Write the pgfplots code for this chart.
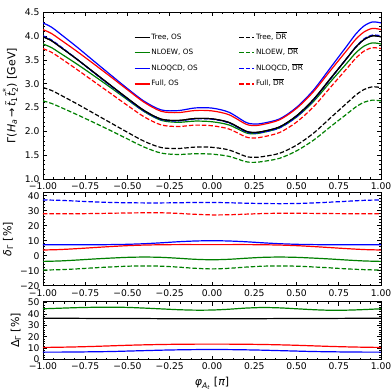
\documentclass[border=0pt]{standalone}
\usepackage{amsmath}
\usepackage{fontspec}
\setmainfont{DejaVu Sans}
\usepackage{pgfplots}
\usepackage{pgfplotstable}
\pgfplotsset{compat=1.18}

\definecolor{mplg}{rgb}{0,0.5,0}
\definecolor{mplb}{rgb}{0,0,1}
\definecolor{mplr}{rgb}{1,0,0}

\pgfplotstableread{
x tos tdr ewos ewdr qcdos qcddr fos fdr
-1.00 3.986 2.920 3.835 2.640 4.277 4.006 4.137 3.738
-0.95 3.904 2.860 3.760 2.588 4.189 3.920 4.056 3.661
-0.90 3.778 2.770 3.646 2.512 4.054 3.792 3.933 3.546
-0.80 3.517 2.580 3.415 2.353 3.774 3.519 3.682 3.302
-0.70 3.242 2.380 3.171 2.187 3.479 3.234 3.417 3.049
-0.60 2.967 2.180 2.920 2.017 3.187 2.954 3.148 2.797
-0.50 2.693 1.980 2.663 1.841 2.898 2.679 2.873 2.544
-0.40 2.434 1.790 2.412 1.668 2.629 2.420 2.607 2.302
-0.30 2.256 1.660 2.231 1.544 2.450 2.244 2.421 2.135
-0.20 2.229 1.640 2.191 1.515 2.436 2.219 2.394 2.102
-0.10 2.270 1.670 2.216 1.531 2.492 2.263 2.438 2.131
0.00 2.263 1.665 2.202 1.522 2.489 2.256 2.430 2.118
0.10 2.188 1.610 2.135 1.476 2.402 2.178 2.350 2.050
0.20 2.005 1.475 1.971 1.363 2.191 1.991 2.153 1.884
0.25 1.977 1.455 1.949 1.349 2.154 1.963 2.122 1.861
0.30 1.998 1.470 1.976 1.367 2.170 1.982 2.144 1.883
0.40 2.094 1.540 2.075 1.435 2.262 2.074 2.243 1.976
0.50 2.326 1.710 2.300 1.590 2.503 2.305 2.482 2.194
0.60 2.668 1.960 2.625 1.813 2.865 2.650 2.831 2.513
0.70 3.105 2.280 3.037 2.095 3.332 3.094 3.273 2.921
0.80 3.544 2.600 3.441 2.371 3.803 3.544 3.711 3.328
0.85 3.765 2.760 3.645 2.510 4.040 3.770 3.931 3.533
0.90 3.928 2.880 3.791 2.612 4.215 3.943 4.089 3.686
0.95 4.006 2.935 3.858 2.656 4.298 4.022 4.162 3.757
1.00 3.986 2.920 3.835 2.640 4.277 4.006 4.137 3.738
}\toptable

\pgfplotstableread{
x qcdos fos ewos qcddr fdr ewdr
-1.0 7.3 3.8 -3.8 37.2 28.0 -9.6
-0.9 7.3 4.1 -3.5 36.9 28.0 -9.3
-0.8 7.3 4.7 -2.9 36.4 28.0 -8.8
-0.7 7.3 5.4 -2.2 35.9 28.1 -8.1
-0.6 7.4 6.1 -1.6 35.5 28.3 -7.5
-0.5 7.6 6.7 -1.1 35.3 28.5 -7.0
-0.4 8.0 7.1 -0.9 35.2 28.6 -6.8
-0.3 8.6 7.3 -1.1 35.2 28.6 -7.0
-0.2 9.3 7.4 -1.7 35.3 28.2 -7.6
-0.1 9.8 7.4 -2.4 35.5 27.6 -8.4
0.0 10.0 7.4 -2.7 35.5 27.2 -8.8
0.1 9.8 7.4 -2.4 35.3 27.3 -8.4
0.2 9.3 7.4 -1.7 35.0 27.7 -7.6
0.3 8.6 7.3 -1.1 34.8 28.1 -7.0
0.4 8.0 7.1 -0.9 34.7 28.3 -6.8
0.5 7.6 6.7 -1.1 34.8 28.3 -7.0
0.6 7.4 6.1 -1.6 35.2 28.2 -7.5
0.7 7.3 5.4 -2.2 35.7 28.1 -8.1
0.8 7.3 4.7 -2.9 36.3 28.0 -8.8
0.9 7.3 4.1 -3.5 36.9 28.0 -9.3
1.0 7.3 3.8 -3.8 37.2 28.0 -9.6
}\midtable

\pgfplotstableread{
x tree ew full qcd
-1.0 36.3 44.6 10.6 6.5
-0.9 36.3 45.1 10.8 6.5
-0.8 36.2 45.6 11.1 6.6
-0.7 36.1 45.9 11.5 6.8
-0.6 36.1 46.0 12.0 7.0
-0.5 36.0 45.8 12.5 7.4
-0.4 36.0 45.2 12.9 7.8
-0.3 35.9 44.5 13.2 8.2
-0.2 35.9 43.8 13.4 8.5
-0.1 35.9 43.4 13.5 8.7
0.0 35.9 43.5 13.5 8.8
0.1 35.9 44.2 13.5 8.7
0.2 35.9 45.2 13.4 8.5
0.3 35.9 45.7 13.2 8.2
0.4 36.0 45.4 12.9 7.8
0.5 36.0 44.6 12.5 7.4
0.6 36.1 43.8 12.0 7.0
0.7 36.1 43.3 11.5 6.8
0.8 36.2 43.4 11.1 6.6
0.9 36.3 43.9 10.8 6.5
1.0 36.3 44.6 10.6 6.5
}\bottable

\pgfplotsset{
  myax/.style={
    scale only axis, width=338pt, anchor=south west,
    xmin=-1, xmax=1,
    xtick={-1,-0.75,-0.5,-0.25,0,0.25,0.5,0.75,1},
    xticklabels={−1.00,−0.75,−0.50,−0.25,0.00,0.25,0.50,0.75,1.00},
    minor x tick num=3, minor y tick num=4,
    tick align=inside, xtick pos=both, ytick pos=both,
    major tick length=4pt, minor tick length=2pt,
    every tick/.style={black, line width=0.6pt},
    axis line style={line width=0.8pt},
    ticklabel style={font=\fontsize{9.2}{11}\selectfont},
    label style={font=\fontsize{11}{13}\selectfont},
    every axis plot/.append style={line width=1.2pt, smooth, no markers},
    dsh/.style={dash pattern=on 4.5pt off 2pt},
  }
}

\begin{document}
\begin{tikzpicture}
\path[use as bounding box] (0,0) rectangle (392pt,392pt);

% top panel
\begin{axis}[myax, at={(43pt,213pt)}, height=166.7pt,
  ymin=1, ymax=4.5,
  ytick={1,1.5,2,2.5,3,3.5,4,4.5},
  yticklabels={1.0,1.5,2.0,2.5,3.0,3.5,4.0,4.5},
  ylabel={$\text{Γ(}\text{\itshape H}_{\text{\itshape a}}\,\text{→}\,\text{\itshape t̃}_{\text{1}}\text{\itshape t̃}_{\text{2}}^{\text{*}}\text{)\ [GeV]}$},
  legend columns=4, transpose legend,
  legend image code/.code={\draw[#1] (0pt,0pt) -- (15pt,0pt);},
  legend cell align=left,
  legend style={draw=none, fill=none, inner sep=0pt,
    at={(0.269,0.879)}, anchor=north west,
    font=\fontsize{7.3}{8}\selectfont,
    row sep=6.6pt,
    nodes={inner sep=1pt, text height=5.5pt, text depth=1.5pt},
    /tikz/every even column/.append style={column sep=40pt}},
]
\addplot[black] table[x=x,y=tos] {\toptable};
\addlegendentry{Tree, OS}
\addplot[mplg] table[x=x,y=ewos] {\toptable};
\addlegendentry{NLOEW, OS}
\addplot[mplb] table[x=x,y=qcdos] {\toptable};
\addlegendentry{NLOQCD, OS}
\addplot[mplr] table[x=x,y=fos] {\toptable};
\addlegendentry{Full, OS}
\addplot[black,dsh] table[x=x,y=tdr] {\toptable};
\addlegendentry{Tree, $\overline{\text{DR}}$}
\addplot[mplg,dsh] table[x=x,y=ewdr] {\toptable};
\addlegendentry{NLOEW, $\overline{\text{DR}}$}
\addplot[mplb,dsh] table[x=x,y=qcddr] {\toptable};
\addlegendentry{NLOQCD, $\overline{\text{DR}}$}
\addplot[mplr,dsh] table[x=x,y=fdr] {\toptable};
\addlegendentry{Full, $\overline{\text{DR}}$}
\addplot[black, forget plot] table[x=x,y=tos] {\toptable};
\end{axis}

% middle panel
\begin{axis}[myax, at={(43pt,106.3pt)}, height=93pt,
  ymin=-20, ymax=42,
  ytick={-20,-10,0,10,20,30,40},
  yticklabels={−20,−10,0,10,20,30,40},
  ylabel={{\itshape δ}\textsubscript{Γ} [\%]},
]
\addplot[mplb,dsh] table[x=x,y=qcddr] {\midtable};
\addplot[mplr,dsh] table[x=x,y=fdr] {\midtable};
\addplot[mplg,dsh] table[x=x,y=ewdr] {\midtable};
\addplot[mplb] table[x=x,y=qcdos] {\midtable};
\addplot[mplr] table[x=x,y=fos] {\midtable};
\addplot[mplg] table[x=x,y=ewos] {\midtable};
\end{axis}

% bottom panel
\begin{axis}[myax, at={(43pt,32.5pt)}, height=58pt,
  ymin=0, ymax=51,
  ytick={0,10,20,30,40,50},
  yticklabels={0,10,20,30,40,50},
  ylabel={Δ\textsubscript{Γ} [\%]},
  xlabel={$\text{\itshape φ}_{\text{\itshape A}_{\text{\itshape t}}}$ [{\itshape π}]},
]
\addplot[mplg] table[x=x,y=ew] {\bottable};
\addplot[black] table[x=x,y=tree] {\bottable};
\addplot[mplr] table[x=x,y=full] {\bottable};
\addplot[mplb] table[x=x,y=qcd] {\bottable};
\end{axis}
\end{tikzpicture}
\end{document}
